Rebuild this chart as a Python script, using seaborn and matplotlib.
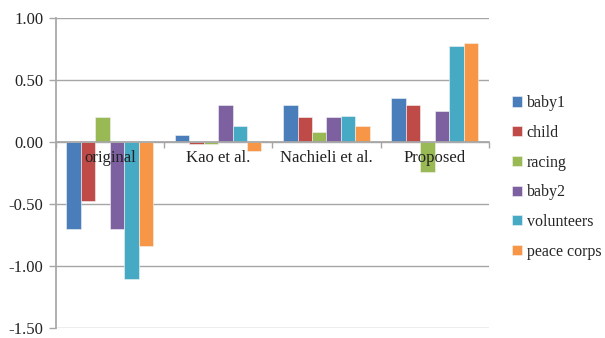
import matplotlib
matplotlib.use("Agg")
import matplotlib.pyplot as plt
import seaborn as sns
import pandas as pd
from matplotlib.patches import Patch

methods = ["original", "Kao et al.", "Nachieli et al.", "Proposed"]
series = ["baby1", "child", "racing", "baby2", "volunteers", "peace corps"]
baby1 = [-0.70, 0.053, 0.30, 0.354]
child = [-0.475, -0.02, 0.20, 0.30]
racing = [0.20, -0.02, 0.077, -0.245]
baby2 = [-0.70, 0.30, 0.20, 0.25]
volunteers = [-1.107, 0.128, 0.208, 0.773]
peace_corps = [-0.84, -0.075, 0.128, 0.794]
yticks = [-1.5, -1.0, -0.5, 0.0, 0.5, 1.0]
colors = ["#4A7EBB", "#BE4B48", "#98B954", "#7D60A0", "#46AAC5", "#F79646"]

values = [baby1, child, racing, baby2, volunteers, peace_corps]
rows = []
for s, vals in zip(series, values):
    for m, v in zip(methods, vals):
        rows.append({"method": m, "series": s, "value": v})
df = pd.DataFrame(rows)

sns.set_theme(style="white")
plt.rcParams["font.family"] = ["Liberation Serif", "DejaVu Serif"]

fig = plt.figure(figsize=(6.05, 3.38), dpi=100)
ax = fig.add_axes([0.092, 0.03, 0.716, 0.917])

sns.barplot(data=df, x="method", y="value", hue="series", order=methods,
            hue_order=series, palette=colors, saturation=1, width=0.8,
            errorbar=None, edgecolor="#f4f4f4", linewidth=0.4, legend=False,
            ax=ax, zorder=2)

for t in yticks:
    ax.axhline(t, color="#A6A6A6", linewidth=1.0, zorder=0)

ax.set_ylim(-1.5, 1.0)
ax.set_xlim(-0.5, 3.5)
ax.set_yticks(yticks)
ax.set_yticklabels([f"{t:.2f}" for t in yticks], fontsize=12, color="#222222")
ax.set_xticks([-0.5, 0.5, 1.5, 2.5, 3.5])
ax.set_xticklabels([])
ax.set_xlabel("")
ax.set_ylabel("")

for sp in ["top", "right"]:
    ax.spines[sp].set_visible(False)
ax.spines["left"].set_color("#A6A6A6")
ax.spines["bottom"].set_color("#A6A6A6")
ax.spines["bottom"].set_position(("data", 0))
ax.spines["bottom"].set_zorder(3)
ax.tick_params(axis="x", direction="out", length=4, color="#A6A6A6", width=1, bottom=True)
ax.tick_params(axis="y", direction="out", length=5, color="#A6A6A6", width=1, left=True, pad=4)

for i, m in enumerate(methods):
    ax.annotate(m, xy=(i, 0), xytext=(0, -6), textcoords="offset points",
                ha="center", va="top", fontsize=12, color="#222222", zorder=5)

handles = [Patch(facecolor=c, edgecolor="#f4f4f4", linewidth=0.4) for c in colors]
fig.legend(handles, series, loc="center left", bbox_to_anchor=(0.836, 0.475),
           frameon=False, fontsize=11.5, handlelength=0.6, handleheight=0.6,
           handletextpad=0.3, labelspacing=0.86, borderaxespad=0)

fig.savefig("out.png", dpi=100)
